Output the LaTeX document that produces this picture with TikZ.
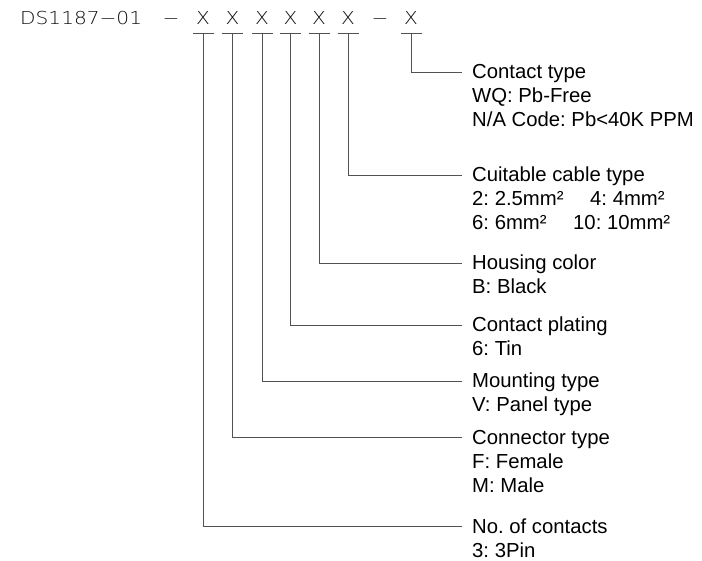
\documentclass[tikz,border=0pt]{standalone}
\usepackage{fontspec}
\setmainfont{Liberation Sans}
\newfontfamily\titlefont[FakeStretch=1.13]{DejaVu Sans ExtraLight}
\frenchspacing
\begin{document}
\begin{tikzpicture}[x=1pt,y=1pt,
  lbl/.style={font=\frenchspacing\fontsize{20.3}{24}\selectfont, inner sep=0pt, anchor=base west, text=black},
  head/.style={lbl, text height=15pt, text depth=1pt},
  ttl/.style={font=\titlefont\fontsize{17.8}{20}\selectfont, inner sep=0pt, anchor=base, text=black!95},
  lead/.style={draw=black!68, line width=0.9pt},
  bar/.style={draw=black!68, line width=0.9pt},
  ]
\useasboundingbox (0,0) rectangle (702,-561);
% title
\node[ttl, anchor=base west] (pn) at (20,-25) {DS1187−01};
\node[ttl] (da) at (171,-25) {−};
\node[ttl] (x1) at (203,-25) {X};
\node[ttl] (x2) at (232.5,-25) {X};
\node[ttl] (x3) at (262,-25) {X};
\node[ttl] (x4) at (290.5,-25) {X};
\node[ttl] (x5) at (319,-25) {X};
\node[ttl] (x6) at (348,-25) {X};
\node[ttl] (db) at (380,-25) {−};
\node[ttl] (x7) at (411,-25) {X};
% underline points
\foreach \i in {1,...,7}{
  \coordinate (u\i) at ([yshift=-8pt]x\i.base);
  \draw[bar] ([xshift=-10.5pt]u\i) -- ([xshift=10.5pt]u\i);
}
% labels
\node[head] (t7) at (472,-79) {Contact type};
\node[lbl] (t7a) at (472,-103) {WQ: Pb-Free};
\node[lbl] (t7b) at (472,-127) {N/A Code: Pb<40K PPM};

\node[head] (t6) at (472,-182) {Cuitable cable type};
\node[lbl] (t6a) at (472,-206) {\makebox[118pt][l]{2: 2.5mm²}4: 4mm²};
\node[lbl] (t6b) at (472,-230) {\makebox[101pt][l]{6: 6mm²}10: 10mm²};

\node[head] (t5) at (472,-270) {Housing color};
\node[lbl] (t5a) at (472,-294) {B: Black};

\node[head] (t4) at (472,-332) {Contact plating};
\node[lbl] (t4a) at (472,-356) {6: Tin};

\node[head] (t3) at (472,-388) {Mounting type};
\node[lbl] (t3a) at (472,-412) {V: Panel type};

\node[head] (t2) at (472,-444) {Connector type};
\node[lbl] (t2a) at (472,-468) {F: Female};
\node[lbl] (t2b) at (472,-492) {M: Male};

\node[head] (t1) at (472,-533) {No. of contacts};
\node[lbl] (t1a) at (472,-557) {3: 3Pin};
% leaders
\foreach \i in {1,...,7}{
  \draw[lead] (u\i) |- ([xshift=-10pt]t\i.west);
}
\end{tikzpicture}
\end{document}
